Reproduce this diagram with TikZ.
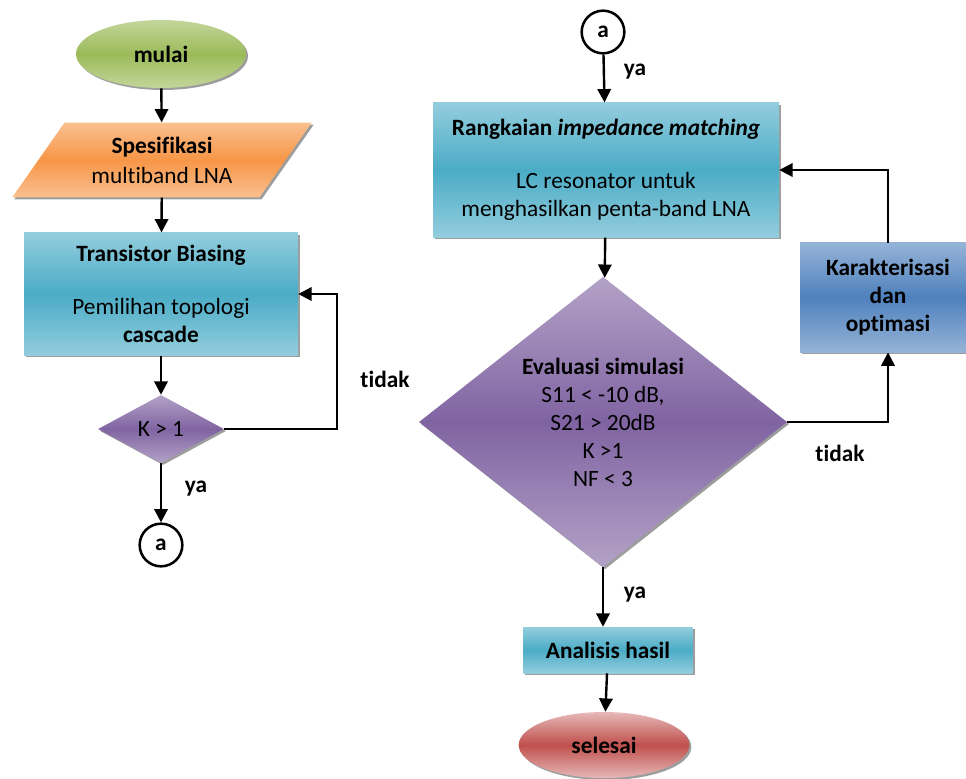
\documentclass[tikz,border=0pt]{standalone}
\usepackage{fontspec}
\setmainfont{Carlito}[Ligatures=CommonOff]
\usetikzlibrary{shapes.geometric,arrows.meta,shadows}

\definecolor{aquaTop}{HTML}{93CDDD}
\definecolor{aquaMid}{HTML}{4BACC6}
\definecolor{greenTop}{HTML}{C3D69B}
\definecolor{greenMid}{HTML}{9BBB59}
\definecolor{orangeTop}{HTML}{FAC090}
\definecolor{orangeMid}{HTML}{F79646}
\definecolor{purpleTop}{HTML}{B3A2C7}
\definecolor{purpleMid}{HTML}{8064A2}
\definecolor{blueTop}{HTML}{95B3D7}
\definecolor{blueMid}{HTML}{4F81BD}
\definecolor{redTop}{HTML}{E6B9B8}
\definecolor{redMid}{HTML}{C0504D}

\begin{document}
\begin{tikzpicture}[x=0.75pt,y=-0.75pt,
    font=\fontsize{17.5}{21}\selectfont,
    shade3/.style n args={2}{top color=#1,bottom color=#1,middle color=#2},
    shdw/.style={drop shadow={shadow xshift=1.5pt,shadow yshift=-1.5pt,opacity=0.55,fill=black!70}},
    proc/.style={rectangle,align=center,inner sep=2pt,shdw},
    term/.style={ellipse,align=center,inner sep=0pt,shdw},
    decide/.style={diamond,align=center,inner sep=0pt,shdw},
    conn/.style={circle,draw=black,line width=1.9pt,fill=white,inner sep=0pt,minimum size=32pt,font=\fontsize{17.5}{20}\selectfont\bfseries},
    line/.style={draw=black,line width=1.8pt,-{Triangle[length=10pt,width=10pt]}}]
  \useasboundingbox (0,0) rectangle (966,778);

  % left column
  \node[term,shade3={greenTop}{greenMid},minimum width=127.5pt,minimum height=51pt] (mulai) at (161,54) {\textbf{mulai}};
  \node[trapezium,trapezium left angle=51,trapezium right angle=129,trapezium stretches=true,
        shade3={orangeTop}{orangeMid},shdw,align=center,inner sep=0pt,
        minimum width=225pt,minimum height=56pt] (spek) at (162,160)
        {\textbf{Spesifikasi}\\[1.5pt]multiband LNA};
  \node[proc,shade3={aquaTop}{aquaMid},minimum width=205.5pt,minimum height=92pt] (bias) at (161,294)
        {\textbf{Transistor Biasing}\\[19pt]Pemilihan topologi\\\textbf{cascade}};
  \node[decide,shade3={purpleTop}{purpleMid},minimum width=94.5pt,minimum height=51pt] (k1) at (161,429) {K > 1};
  \node[conn] (a1) at (161,545) {a};

  % right column
  \node[conn] (a2) at (603,32) {a};
  \node[proc,shade3={aquaTop}{aquaMid},minimum width=259.5pt,minimum height=101pt] (match) at (606,170)
        {\textbf{Rangkaian \textit{impedance matching}}\\[19pt]LC resonator untuk\\menghasilkan penta-band LNA};
  \node[decide,shade3={purpleTop}{purpleMid},minimum width=276pt,minimum height=217.5pt] (eval) at (603,422)
        {\textbf{Evaluasi simulasi}\\S11 < -10 dB,\\S21 > 20dB\\K >1\\NF < 3};
  \node[proc,shade3={blueTop}{blueMid},minimum width=132pt,minimum height=82pt] (karak) at (888,297.5)
        {\textbf{Karakterisasi}\\\textbf{dan}\\\textbf{optimasi}};
  \node[proc,shade3={aquaTop}{aquaMid},minimum width=127pt,minimum height=34.5pt] (hasil) at (608,650)
        {\textbf{Analisis hasil}};
  \node[term,shade3={redTop}{redMid},minimum width=128pt,minimum height=49.5pt] (selesai) at (604,745) {\textbf{selesai}};

  % labels
  \begin{scope}[every node/.style={font=\fontsize{17.5}{20}\selectfont\bfseries}]
    \node (ya1) at (196,489) {ya};
    \node (tidak1) at (385,379) {tidak};
    \node (ya2) at (635,72) {ya};
    \node (tidak2) at (840,453) {tidak};
    \node (ya3) at (635,595) {ya};
  \end{scope}

  % connectors
  \path[line] (mulai) -- (spek);
  \path[line] (spek) -- (bias);
  \path[line] (bias) -- (k1);
  \path[line] (k1.east) -- (337,429) |- (bias.east);
  \path[line] (k1) -- (a1);
  \path[line] (a2) -- (match);
  \path[line] (match) -- (eval);
  \path[line] (eval.east) -| (karak.south);
  \path[line] (karak.north) |- (match.east);
  \path[line] (eval.south) -- (eval.south |- hasil.north);
  \path[line] (hasil) -- (selesai);
\end{tikzpicture}
\end{document}
